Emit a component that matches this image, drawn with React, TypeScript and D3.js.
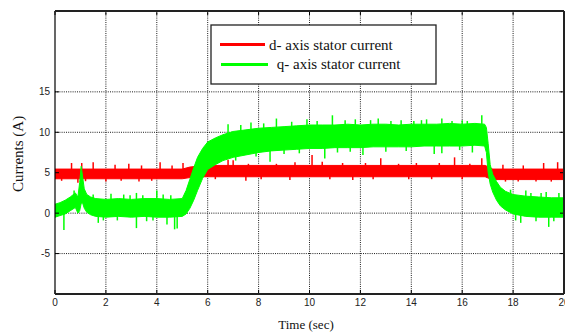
import React from "react";
import * as d3 from "d3";

// ---- data ----
const X_TICKS = [0, 2, 4, 6, 8, 10, 12, 14, 16, 18, 20];
const Y_TICKS = [-5, 0, 5, 10, 15];

// q-axis stator current: envelope of the noisy trace
const qTime = [0, 0.2, 0.4, 0.6, 0.8, 0.9, 0.97, 1.03, 1.08, 1.15, 1.25, 1.4, 1.6, 2.0, 2.5, 3.0, 3.5, 4.0, 4.5, 5.0, 5.15, 5.3, 5.45, 5.6, 5.8, 6.0, 6.3, 6.6, 7.0, 7.5, 8.0, 8.5, 9.0, 9.5, 10, 10.5, 11, 11.5, 12, 12.5, 13, 13.5, 14, 14.5, 15, 15.5, 16, 16.5, 16.88, 16.95, 17.02, 17.1, 17.2, 17.35, 17.5, 17.7, 18.0, 18.5, 19, 19.5, 20];
const qLow = [-0.5, -0.3, -0.1, 0.3, 0.7, 0.0, 0.3, 1.2, 1.3, 0.6, 0.1, -0.2, -0.4, -0.5, -0.4, -0.5, -0.4, -0.5, -0.5, -0.4, -0.1, 0.6, 1.6, 2.8, 4.3, 5.4, 6.0, 6.5, 6.9, 7.2, 7.5, 7.7, 7.8, 7.9, 8.0, 8.0, 8.1, 8.1, 8.1, 8.2, 8.2, 8.2, 8.2, 8.3, 8.3, 8.3, 8.3, 8.4, 8.3, 7.5, 5.0, 3.6, 2.6, 1.6, 0.9, 0.4, -0.1, -0.4, -0.5, -0.5, -0.5];
const qHigh = [1.1, 1.3, 1.6, 2.0, 2.5, 2.0, 3.8, 5.8, 4.6, 3.0, 2.3, 2.0, 1.8, 1.7, 1.8, 1.7, 1.8, 1.8, 1.7, 1.8, 2.8, 4.2, 5.6, 6.9, 8.0, 8.8, 9.3, 9.7, 10.1, 10.3, 10.5, 10.6, 10.7, 10.8, 10.9, 10.9, 10.9, 11.0, 10.9, 11.0, 11.0, 10.9, 11.0, 11.0, 11.0, 11.1, 11.0, 11.1, 11.0, 10.6, 8.6, 6.0, 4.8, 3.9, 3.2, 2.7, 2.3, 2.1, 2.0, 1.9, 1.9];
// isolated noise spikes [time, value]
const qSpikes: [number, number][] = [
  [0.35, -2.1], [0.75, 2.8], [1.7, -1.2], [2.2, 2.4], [2.7, 2.3], [3.2, 2.5], [3.2, -1.85], [3.6, -1.0], [4.0, 2.8], [4.4, -1.4], [4.7, -2.0], [4.8, -1.9],
  [1.5, 2.3], [1.9, -0.9], [2.45, -0.9], [2.95, 2.2], [3.45, 2.2], [3.85, -0.9], [4.25, 2.3], [4.55, 2.2],
  [6.8, 11.0], [7.3, 10.9], [7.7, 11.2], [8.2, 11.1], [8.45, 6.35], [8.7, 11.7], [9.3, 11.3], [9.9, 11.6], [10.6, 6.75], [10.9, 12.1], [11.4, 11.5], [11.8, 11.6], [12.1, 7.2],
  [12.7, 11.7], [13.2, 11.4], [13.6, 11.5], [14.1, 11.4], [14.6, 11.6], [14.9, 7.3], [15.2, 11.7], [15.2, 7.4], [15.6, 11.4], [16.0, 11.5], [16.4, 7.5], [16.77, 12.1],
  [7.1, 6.5], [7.9, 7.0], [9.0, 7.3], [9.6, 7.4], [10.3, 11.4], [11.1, 7.5], [11.6, 7.6], [12.4, 11.5], [13.0, 7.6], [13.8, 7.7], [14.4, 11.5], [15.9, 7.8], [16.2, 11.4],
  [17.9, 2.9], [18.3, -1.2], [18.5, 2.8], [18.9, -1.0], [19.3, 2.6], [19.4, -1.7], [19.8, 2.5],
  [18.1, -0.9], [18.7, 2.5], [19.1, 2.5], [19.6, -1.0],
];

// d-axis stator current: envelope of the noisy trace
const dTime = [0, 5.0, 5.3, 5.6, 6.0, 16.9, 17.05, 17.2, 20];
const dLow = [4.25, 4.25, 4.4, 4.5, 4.5, 4.5, 4.3, 4.15, 4.15];
const dHigh = [5.45, 5.45, 5.7, 5.8, 5.9, 5.9, 5.7, 5.45, 5.45];
const dSpikes: [number, number][] = [
  [0.26, 4.0], [0.65, 6.2], [0.9, 3.75], [1.05, 6.2], [1.5, 6.3], [2.0, 3.9], [2.36, 6.0], [2.9, 6.1], [3.3, 3.9], [3.4, 5.9], [4.13, 6.3], [4.6, 5.9], [5.03, 6.2],
  [6.8, 6.6], [7.0, 6.55], [7.5, 4.0], [7.6, 6.1], [8.7, 6.1], [9.23, 4.1], [9.43, 6.3], [10.1, 7.2], [10.5, 6.35], [11.3, 6.2], [11.7, 4.1], [12.2, 6.2], [12.8, 6.8],
  [13.5, 6.1], [13.9, 4.2], [14.2, 6.2], [15.1, 6.2], [15.7, 6.9], [16.3, 6.1], [16.77, 6.8], [17.6, 6.0], [17.7, 3.9], [18.4, 5.9], [18.9, 3.9], [19.2, 6.2], [19.75, 6.3],
  [1.2, 3.95], [2.6, 4.0], [3.8, 4.0], [6.3, 4.2], [8.1, 4.2], [10.8, 4.2], [12.5, 4.2], [14.8, 4.2], [16.0, 4.2], [18.2, 3.9], [19.5, 3.9],
];

const LEGEND = ["d- axis stator current", " q- axis stator current"];
const COLORS = ["#ff0000", "#00ff00"];

// ---- layout ----
const W = 565, H = 335;
const L = 55, R = 564, T = 11, B = 294;

export default function App() {
  const x = d3.scaleLinear().domain([0, 20]).range([L, R]);
  const y = d3.scaleLinear().domain([-10, 25]).range([B, T]);

  const band = (ts: number[], lo: number[], hi: number[]) =>
    d3.area<number>().x((_, i) => x(ts[i])).y0((_, i) => y(lo[i])).y1((_, i) => y(hi[i]))(ts) || "";

  const spikeLines = (ts: number[], lo: number[], hi: number[], sp: [number, number][]) =>
    sp.map(([t, v]) => {
      const interp = (arr: number[]) => {
        const i = Math.max(1, Math.min(ts.length - 1, d3.bisectLeft(ts, t)));
        const f = (t - ts[i - 1]) / (ts[i] - ts[i - 1]);
        return arr[i - 1] + f * (arr[i] - arr[i - 1]);
      };
      const mid = (interp(lo) + interp(hi)) / 2;
      return { x: x(t), y1: y(mid), y2: y(v) };
    });

  const dS = spikeLines(dTime, dLow, dHigh, dSpikes);
  const qS = spikeLines(qTime, qLow, qHigh, qSpikes);

  const tickFont = { fontFamily: "Liberation Sans, Arial, sans-serif", fontSize: 10, fill: "#222" };
  const serif = "Liberation Serif, Times New Roman, serif";

  return (
    <svg width={W} height={H} style={{ position: "absolute", left: 0, top: 0, background: "#fff" }}>
      <defs>
        <clipPath id="plot">
          <rect x={L} y={T} width={R - L} height={B - T} />
        </clipPath>
      </defs>
      <rect x={0} y={0} width={W} height={H} fill="#fff" />
      {/* grid */}
      {X_TICKS.slice(1, -1).map((t) => (
        <line key={"gx" + t} x1={x(t)} x2={x(t)} y1={T} y2={B} stroke="#000" strokeWidth={0.9} strokeDasharray="1,1.2" />
      ))}
      {Y_TICKS.map((v) => (
        <line key={"gy" + v} x1={L} x2={R} y1={y(v)} y2={y(v)} stroke="#000" strokeWidth={0.9} strokeDasharray="1,1.2" />
      ))}
      {/* data */}
      <g clipPath="url(#plot)">
        <path d={band(dTime, dLow, dHigh)} fill={COLORS[0]} stroke={COLORS[0]} strokeWidth={1} />
        {dS.map((s, i) => (
          <line key={"ds" + i} x1={s.x} x2={s.x} y1={s.y1} y2={s.y2} stroke={COLORS[0]} strokeWidth={1.5} />
        ))}
        <path d={band(qTime, qLow, qHigh)} fill={COLORS[1]} stroke={COLORS[1]} strokeWidth={1} />
        {qS.map((s, i) => (
          <line key={"qs" + i} x1={s.x} x2={s.x} y1={s.y1} y2={s.y2} stroke={COLORS[1]} strokeWidth={1.5} />
        ))}
      </g>
      {/* ticks */}
      {X_TICKS.map((t) => (
        <g key={"tx" + t}>
          <line x1={x(t)} x2={x(t)} y1={B} y2={B - 4} stroke="#000" />
          <line x1={x(t)} x2={x(t)} y1={T} y2={T + 4} stroke="#000" />
          <text x={x(t)} y={306} textAnchor="middle" {...tickFont}>{t}</text>
        </g>
      ))}
      {Y_TICKS.map((v) => (
        <g key={"ty" + v}>
          <line x1={L} x2={L + 4} y1={y(v)} y2={y(v)} stroke="#000" />
          <line x1={R} x2={R - 4} y1={y(v)} y2={y(v)} stroke="#000" />
          <text x={L - 5} y={y(v) + 3.5} textAnchor="end" {...tickFont}>{v}</text>
        </g>
      ))}
      {/* frame */}
      <line x1={L} x2={L} y1={T} y2={B} stroke="#000" strokeWidth={1.2} />
      <line x1={L} x2={R} y1={T} y2={T} stroke="#222" strokeWidth={2} />
      <line x1={L} x2={R} y1={B} y2={B} stroke="#222" strokeWidth={2} />
      <line x1={R} x2={R} y1={T} y2={B} stroke="#222" strokeWidth={2} />
      {/* axis labels */}
      <text x={306} y={329} textAnchor="middle" fontFamily={serif} fontSize={13} fill="#111">Time (sec)</text>
      <text transform="translate(23,154) rotate(-90)" textAnchor="middle" fontFamily={serif} fontSize={15} fill="#111">Currents (A)</text>
      {/* legend */}
      <rect x={211} y={25} width={225} height={59} fill="#fff" stroke="#222" strokeWidth={1.3} />
      <line x1={220} x2={265} y1={44.5} y2={44.5} stroke={COLORS[0]} strokeWidth={3} />
      <line x1={221} x2={268} y1={64.5} y2={64.5} stroke={COLORS[1]} strokeWidth={3} />
      <text x={269} y={50} fontFamily={serif} fontSize={15} fill="#111" xmlSpace="preserve">{LEGEND[0]}</text>
      <text x={273} y={69} fontFamily={serif} fontSize={15} fill="#111" xmlSpace="preserve">{LEGEND[1]}</text>
    </svg>
  );
}
